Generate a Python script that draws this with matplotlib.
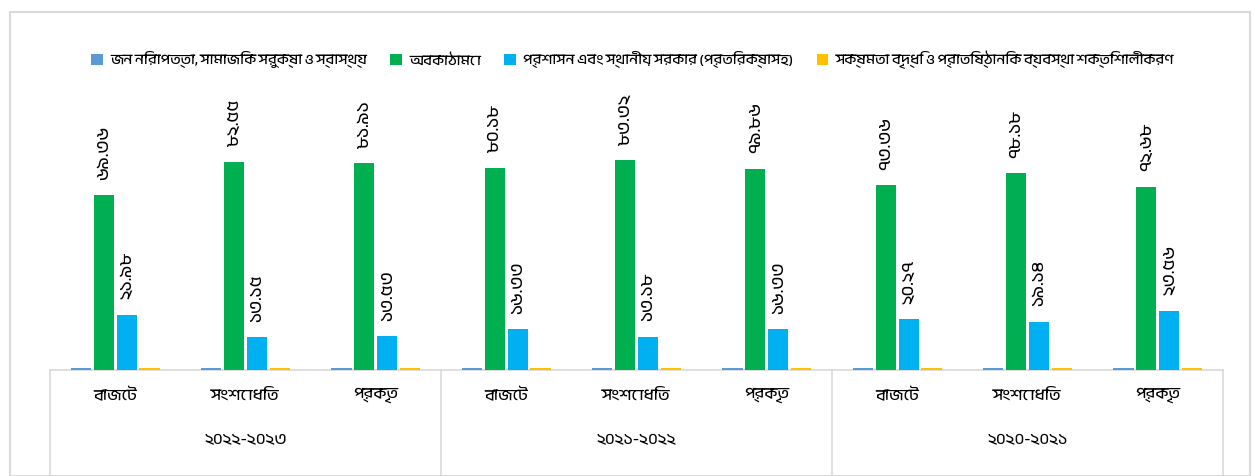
import matplotlib
matplotlib.use("Agg")
import matplotlib.pyplot as plt
from matplotlib import font_manager as fm
from matplotlib.patches import Rectangle
from matplotlib.lines import Line2D
import numpy as np

# ---- data ----
years = ["২০২২-২০২৩", "২০২১-২০২২", "২০২০-২০২১"]
categories = ["বাজেট", "সংশোধিত", "প্রকৃত"]
series_names = [
    "জন নিরাপত্তা, সামাজিক সুরক্ষা ও স্বাস্থ্য",
    "অবকাঠামো",
    "প্রশাসন এবং স্থানীয় সরকার (প্রতিরক্ষাসহ)",
    "সক্ষমতা বৃদ্ধি ও প্রাতিষ্ঠানিক ব্যবস্থা শক্তিশালীকরণ",
]
series_colors = ["#5B9BD5", "#00B050", "#00B0F0", "#FFC000"]
s1_values = [0.7, 0.7, 0.7, 0.7, 0.7, 0.7, 0.7, 0.7, 0.7]
s2_values = [69.36, 82.55, 81.91, 80.18, 83.32, 79.86, 73.36, 78.18, 72.68]
s3_values = [21.98, 13.15, 13.53, 16.33, 13.18, 16.33, 20.27, 19.14, 23.56]
s4_values = [0.7, 0.7, 0.7, 0.7, 0.7, 0.7, 0.7, 0.7, 0.7]
labelled = [False, True, True, False]

# ---- fonts ----
bn = [f.name for f in fm.fontManager.ttflist
      if "bengali" in f.name.lower() or "bangla" in f.name.lower()
      or "lohit" in f.name.lower() or "kalpurush" in f.name.lower()
      or "solaiman" in f.name.lower()]
fam = (bn[:1] if bn else []) + ["Noto Sans", "DejaVu Sans"]
plt.rcParams["font.family"] = fam

bn_digits = str.maketrans("0123456789", "০১২৩৪৫৬৭৮৯")
def bnum(v):
    return f"{v:.2f}".translate(bn_digits)

W, H = 1255, 476
fig = plt.figure(figsize=(W / 100, H / 100), dpi=100)
fig.patch.set_facecolor("white")

# outer border
fig.add_artist(Rectangle((10 / W, 0), (1250 - 10) / W, (H - 12) / H,
                         transform=fig.transFigure, fill=False,
                         edgecolor="#D9D9D9", linewidth=1.5))

ax = fig.add_axes([50 / W, (H - 370) / H, (1223 - 50) / W, (370 - 90) / H])
n = len(years) * len(categories)
x = np.arange(n)
bw = 0.155
step = 0.176
all_series = [s1_values, s2_values, s3_values, s4_values]
for i, (vals, col) in enumerate(zip(all_series, series_colors)):
    off = (i - 1.5) * step
    ax.bar(x + off, vals, width=bw, color=col, label=series_names[i], zorder=3)
    if labelled[i]:
        for xi, v in zip(x + off, vals):
            ax.annotate(bnum(v), (xi, v), xytext=(0, 11), textcoords="offset points",
                        rotation=90, ha="center", va="bottom", fontsize=12.5,
                        color="#000000")

ax.set_xlim(-0.5, n - 0.5)
ax.set_ylim(0, 111)
ax.set_yticks([])
ax.set_xticks([])
for sp in ["top", "right", "left"]:
    ax.spines[sp].set_visible(False)
ax.spines["bottom"].set_color("#D9D9D9")
ax.spines["bottom"].set_linewidth(1.2)

# category and year labels
trans = ax.get_xaxis_transform()
cat_y = -(395 - 370) / 280
year_y = -(440 - 370) / 280
for gi, yr in enumerate(years):
    for ci, c in enumerate(categories):
        ax.text(gi * 3 + ci, cat_y, c, transform=trans, ha="center", va="center",
                fontsize=11.5, color="#000000")
    ax.text(gi * 3 + 1, year_y, yr, transform=trans, ha="center", va="center",
            fontsize=11.5, color="#000000")
for xb in [-0.5, 2.5, 5.5, 8.5]:
    ax.add_line(Line2D([xb, xb], [0, -(476 - 370) / 280], transform=trans,
                       color="#D9D9D9", linewidth=1.2, clip_on=False))

fig.legend(loc="center", bbox_to_anchor=(0.504, (H - 60) / H), ncol=4, frameon=False,
           fontsize=10.5, handlelength=0.8, handleheight=0.8, columnspacing=1.6,
           handletextpad=0.5)

fig.savefig("out.png", dpi=100, facecolor="white")
